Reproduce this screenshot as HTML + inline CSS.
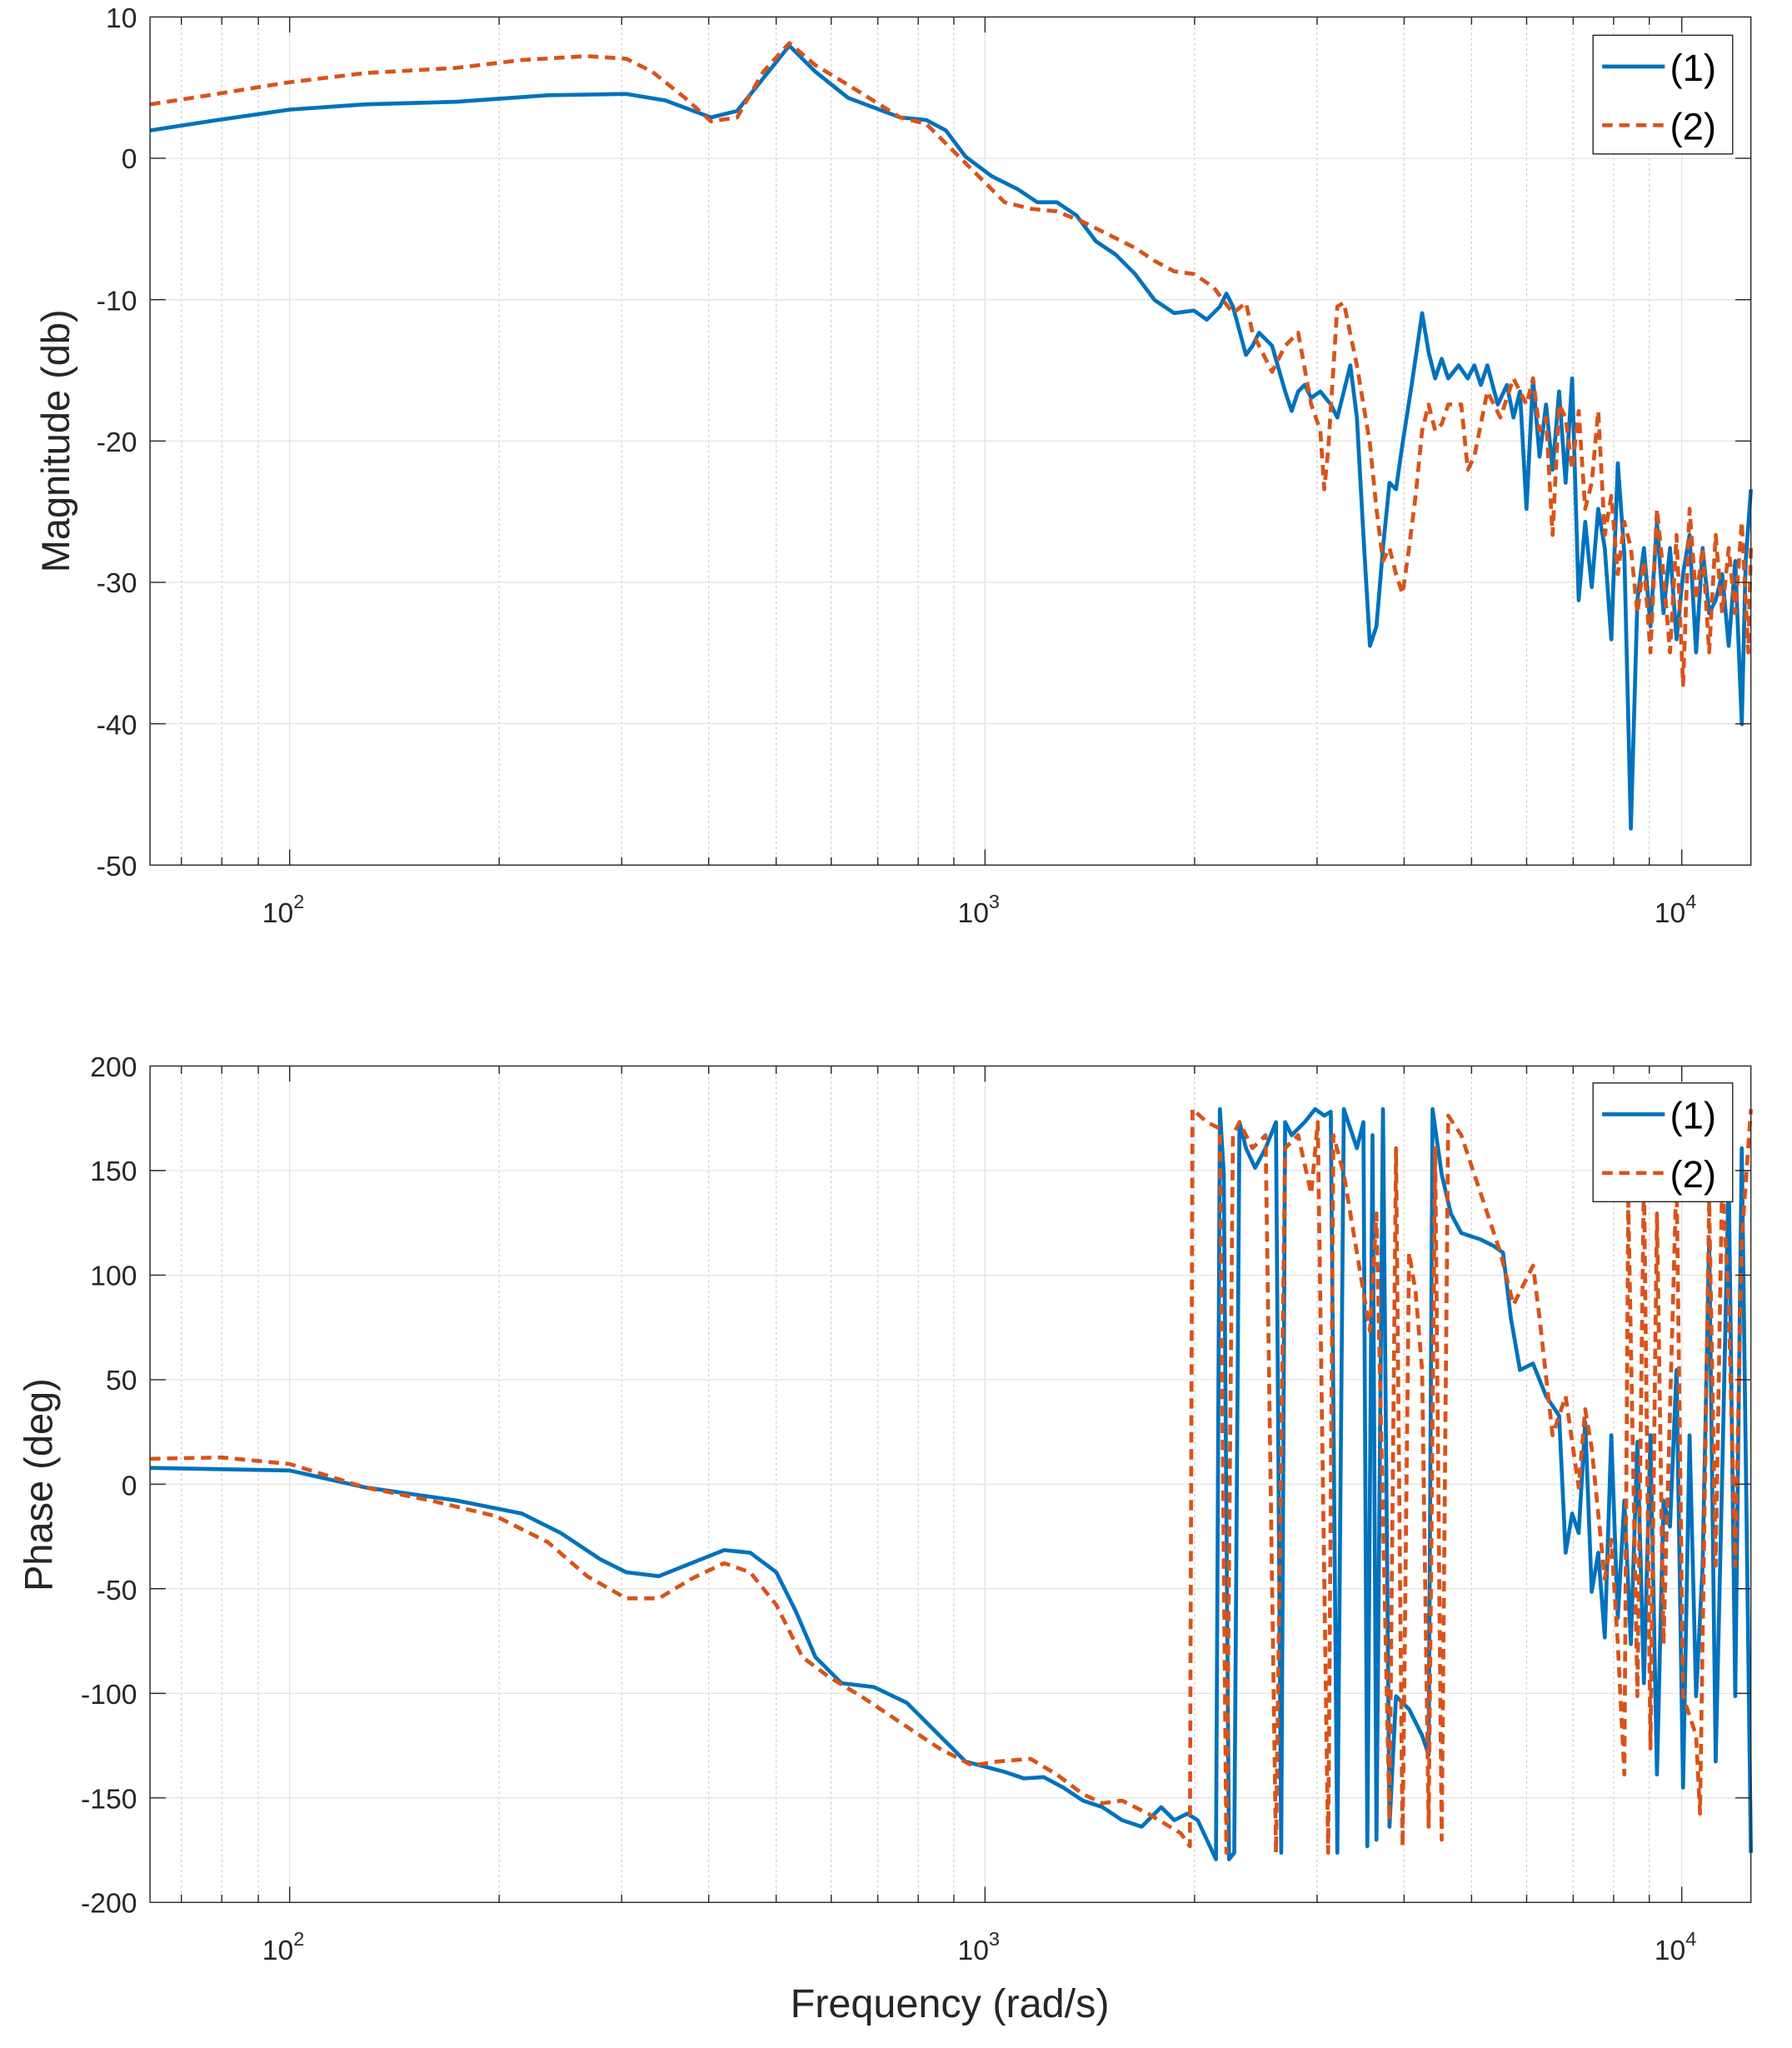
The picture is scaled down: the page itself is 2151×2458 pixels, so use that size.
<!DOCTYPE html>
<html><head><meta charset="utf-8"><style>
html,body{margin:0;padding:0;background:#fff}
svg{display:block}
text{font-family:"Liberation Sans",sans-serif;fill:#262626}
.t{font-size:21.5px}
.ax{fill:none;stroke:#262626;stroke-width:0.9}
.b{fill:none;stroke:#0072BD;stroke-width:3;stroke-linejoin:round}
.r{fill:none;stroke:#D95319;stroke-width:3;stroke-dasharray:8,5;stroke-linejoin:round}
</style></head><body>
<svg width="2151" height="2458" viewBox="0 0 1373.5 1569.6" preserveAspectRatio="none" xmlns="http://www.w3.org/2000/svg">
<g stroke="#d0d0d0" stroke-width="0.8" stroke-dasharray="2,2">
<path d="M139 13V663M170 13V663M198 13V663M382.6 13V663M476.5 13V663M543.2 13V663M594.9 13V663M637.1 13V663M672.8 13V663M703.8 13V663M731.1 13V663M915.6 13V663M1009.5 13V663M1076.2 13V663M1127.9 13V663M1170.1 13V663M1205.8 13V663M1236.8 13V663M1264.1 13V663"/>
<path d="M139 817V1458M170 817V1458M198 817V1458M382.6 817V1458M476.5 817V1458M543.2 817V1458M594.9 817V1458M637.1 817V1458M672.8 817V1458M703.8 817V1458M731.1 817V1458M915.6 817V1458M1009.5 817V1458M1076.2 817V1458M1127.9 817V1458M1170.1 817V1458M1205.8 817V1458M1236.8 817V1458M1264.1 817V1458"/>
</g>
<g stroke="#e3e3e3" stroke-width="0.8">
<path d="M222 13V663M755 13V663M1289 13V663M115 121.3H1342M115 229.7H1342M115 338H1342M115 446.3H1342M115 554.7H1342"/>
<path d="M222 817V1458M755 817V1458M1289 817V1458M115 897.1H1342M115 977.3H1342M115 1057.4H1342M115 1137.5H1342M115 1217.6H1342M115 1297.8H1342M115 1377.9H1342"/>
</g>

<polyline class="b" points="115,100 160,93 222,84 280,80 350,78 420,73 480,72 510,77 545,90 565,85 585,60 605,35 625,55 650,75 690,90 710,92 725,100 740,120 760,135 780,145 795,155 810,155 825,165 840,185 855,195 870,210 885,230 900,240 915,238 925,245 935,235 940,225 945,235 955,272 960,265 965,255 975,265 985,300 990,315 995,300 1000,295 1005,305 1012,300 1020,310 1025,320 1030,300 1035,280 1040,320 1045,410 1050,495 1055,480 1060,420 1065,370 1070,375 1075,340 1082,295 1090,240 1095,270 1100,290 1105,275 1110,290 1118,280 1125,290 1130,280 1135,295 1140,280 1148,310 1155,295 1160,320 1165,300 1170,390 1175,290 1180,350 1185,310 1190,360 1195,300 1200,370 1205,290 1210,460 1215,400 1220,450 1225,390 1230,420 1235,490 1240,355 1245,425 1250,635 1255,460 1260,420 1265,480 1270,400 1275,470 1280,420 1285,490 1290,440 1295,410 1300,500 1305,420 1310,470 1315,460 1320,440 1325,495 1330,430 1335,555 1338,430 1342,375"/>
<polyline class="r" points="115,80 160,73 222,63 280,56 350,52 400,46 450,43 480,45 500,55 525,75 545,93 565,90 585,55 605,33 625,50 650,65 690,90 710,95 725,110 745,130 770,155 790,160 810,162 830,170 850,180 870,190 885,200 900,208 915,210 930,220 945,240 955,232 960,255 965,265 975,285 985,265 995,255 1005,310 1012,330 1015,375 1018,345 1025,235 1030,232 1040,280 1050,340 1055,390 1060,430 1065,420 1070,440 1075,455 1080,420 1085,380 1090,330 1095,310 1100,330 1105,325 1110,310 1120,310 1125,360 1130,350 1140,300 1150,320 1160,290 1170,310 1175,290 1180,330 1185,320 1190,410 1195,310 1200,320 1205,360 1210,315 1215,390 1220,370 1225,315 1230,410 1235,380 1240,440 1245,400 1250,420 1255,470 1260,430 1265,500 1270,390 1275,440 1280,500 1285,410 1290,525 1295,390 1300,460 1305,420 1310,500 1315,410 1320,470 1325,420 1330,470 1335,400 1340,500 1342,420"/>

<polyline class="b" points="115,1125 222,1127 280,1140 350,1150 400,1160 430,1175 460,1195 480,1205 505,1208 530,1198 555,1188 575,1190 595,1205 610,1235 625,1270 645,1290 670,1293 695,1305 720,1330 740,1350 755,1354 770,1358 785,1363 800,1362 815,1370 830,1380 845,1385 860,1395 875,1400 890,1385 900,1395 910,1390 918,1395 925,1410 932,1425 935,850 938,900 942,1425 946,1420 950,860 955,880 962,895 970,880 978,860 982,1420 985,860 990,870 1000,860 1008,850 1015,855 1020,852 1025,1420 1030,850 1040,880 1045,860 1048,1415 1052,870 1055,1410 1060,850 1065,1400 1070,1300 1080,1310 1090,1330 1095,1345 1098,850 1105,900 1112,930 1120,945 1135,950 1145,955 1152,960 1158,1010 1165,1050 1175,1045 1185,1070 1195,1085 1200,1190 1205,1160 1210,1175 1215,1090 1220,1220 1225,1190 1230,1255 1235,1100 1240,1240 1245,1150 1250,1260 1255,1105 1260,1290 1265,1100 1270,1360 1275,1150 1280,1170 1285,1050 1290,1370 1295,1100 1300,1300 1305,1200 1310,950 1315,1350 1320,1130 1325,900 1330,1300 1335,880 1342,1420"/>
<polyline class="r" points="115,1118 170,1117 222,1122 280,1140 330,1150 380,1162 420,1182 450,1208 480,1225 505,1225 530,1210 555,1198 575,1205 595,1230 615,1270 635,1285 660,1300 690,1320 720,1340 745,1353 765,1350 790,1348 810,1360 830,1375 845,1382 860,1380 880,1390 905,1405 912,1415 914,850 925,860 935,865 940,1420 945,870 950,860 960,880 970,870 978,1420 985,880 995,870 1005,915 1010,860 1018,1420 1022,870 1030,900 1040,960 1050,1020 1055,930 1065,1395 1070,880 1075,1415 1080,960 1085,990 1090,1050 1095,1400 1100,880 1105,1410 1110,855 1120,870 1130,900 1140,930 1150,960 1160,1000 1175,970 1180,1010 1190,1100 1200,1070 1210,1140 1215,1080 1220,1110 1230,1210 1235,1180 1240,1260 1245,1360 1248,920 1255,1300 1260,900 1265,1340 1270,930 1275,1260 1285,900 1290,1300 1300,1330 1303,1390 1310,920 1315,1200 1320,900 1325,1000 1330,1200 1335,950 1342,850"/>

<rect class="ax" x="115" y="13" width="1227" height="650"/>
<rect class="ax" x="115" y="817" width="1227" height="641"/>
<g stroke="#262626" stroke-width="0.9">
<path d="M139 663v-6M170 663v-6M198 663v-6M382.6 663v-6M476.5 663v-6M543.2 663v-6M594.9 663v-6M637.1 663v-6M672.8 663v-6M703.8 663v-6M731.1 663v-6M915.6 663v-6M1009.5 663v-6M1076.2 663v-6M1127.9 663v-6M1170.1 663v-6M1205.8 663v-6M1236.8 663v-6M1264.1 663v-6M222 663v-12M755 663v-12M1289 663v-12"/>
<path d="M139 13v6M170 13v6M198 13v6M382.6 13v6M476.5 13v6M543.2 13v6M594.9 13v6M637.1 13v6M672.8 13v6M703.8 13v6M731.1 13v6M915.6 13v6M1009.5 13v6M1076.2 13v6M1127.9 13v6M1170.1 13v6M1205.8 13v6M1236.8 13v6M1264.1 13v6M222 13v12M755 13v12M1289 13v12"/>
<path d="M139 1458v-6M170 1458v-6M198 1458v-6M382.6 1458v-6M476.5 1458v-6M543.2 1458v-6M594.9 1458v-6M637.1 1458v-6M672.8 1458v-6M703.8 1458v-6M731.1 1458v-6M915.6 1458v-6M1009.5 1458v-6M1076.2 1458v-6M1127.9 1458v-6M1170.1 1458v-6M1205.8 1458v-6M1236.8 1458v-6M1264.1 1458v-6M222 1458v-12M755 1458v-12M1289 1458v-12"/>
<path d="M139 817v6M170 817v6M198 817v6M382.6 817v6M476.5 817v6M543.2 817v6M594.9 817v6M637.1 817v6M672.8 817v6M703.8 817v6M731.1 817v6M915.6 817v6M1009.5 817v6M1076.2 817v6M1127.9 817v6M1170.1 817v6M1205.8 817v6M1236.8 817v6M1264.1 817v6M222 817v12M755 817v12M1289 817v12"/>
<path d="M115 121.3h12M115 229.7h12M115 338h12M115 446.3h12M115 554.7h12M1342 121.3h-12M1342 229.7h-12M1342 338h-12M1342 446.3h-12M1342 554.7h-12"/>
<path d="M115 897.1h12M115 977.3h12M115 1057.4h12M115 1137.5h12M115 1217.6h12M115 1297.8h12M115 1377.9h12M1342 897.1h-12M1342 977.3h-12M1342 1057.4h-12M1342 1137.5h-12M1342 1217.6h-12M1342 1297.8h-12M1342 1377.9h-12"/>
</g>

<g class="t" text-anchor="end">
<text x="105" y="21">10</text><text x="105" y="129">0</text><text x="105" y="238">-10</text><text x="105" y="346">-20</text><text x="105" y="454">-30</text><text x="105" y="563">-40</text><text x="105" y="671">-50</text>
<text x="105" y="825">200</text><text x="105" y="905">150</text><text x="105" y="985">100</text><text x="105" y="1065">50</text><text x="105" y="1146">0</text><text x="105" y="1226">-50</text><text x="105" y="1306">-100</text><text x="105" y="1386">-150</text><text x="105" y="1466">-200</text>
</g>
<g class="t">
<text x="201" y="707">10<tspan font-size="15" dy="-11">2</tspan></text>
<text x="734" y="707">10<tspan font-size="15" dy="-11">3</tspan></text>
<text x="1268" y="707">10<tspan font-size="15" dy="-11">4</tspan></text>
<text x="201" y="1502">10<tspan font-size="15" dy="-11">2</tspan></text>
<text x="734" y="1502">10<tspan font-size="15" dy="-11">3</tspan></text>
<text x="1268" y="1502">10<tspan font-size="15" dy="-11">4</tspan></text>
</g>
<text x="728" y="1546" font-size="31" text-anchor="middle">Frequency (rad/s)</text>
<text transform="translate(53,338) rotate(-90)" font-size="30" text-anchor="middle">Magnitude (db)</text>
<text transform="translate(40,1138) rotate(-90)" font-size="30" text-anchor="middle">Phase (deg)</text>

<rect x="1221" y="27" width="107" height="91" fill="#fff" stroke="#262626" stroke-width="0.9"/>
<line x1="1228" y1="51" x2="1276" y2="51" stroke="#0072BD" stroke-width="3"/>
<line x1="1228" y1="96" x2="1276" y2="96" stroke="#D95319" stroke-width="3" stroke-dasharray="8,5"/>
<text x="1280" y="62" font-size="29" style="fill:#000">(1)</text>
<text x="1280" y="107" font-size="29" style="fill:#000">(2)</text>
<rect x="1221" y="830" width="107" height="91" fill="#fff" stroke="#262626" stroke-width="0.9"/>
<line x1="1228" y1="854" x2="1276" y2="854" stroke="#0072BD" stroke-width="3"/>
<line x1="1228" y1="899" x2="1276" y2="899" stroke="#D95319" stroke-width="3" stroke-dasharray="8,5"/>
<text x="1280" y="865" font-size="29" style="fill:#000">(1)</text>
<text x="1280" y="910" font-size="29" style="fill:#000">(2)</text>
</svg>
</body></html>
